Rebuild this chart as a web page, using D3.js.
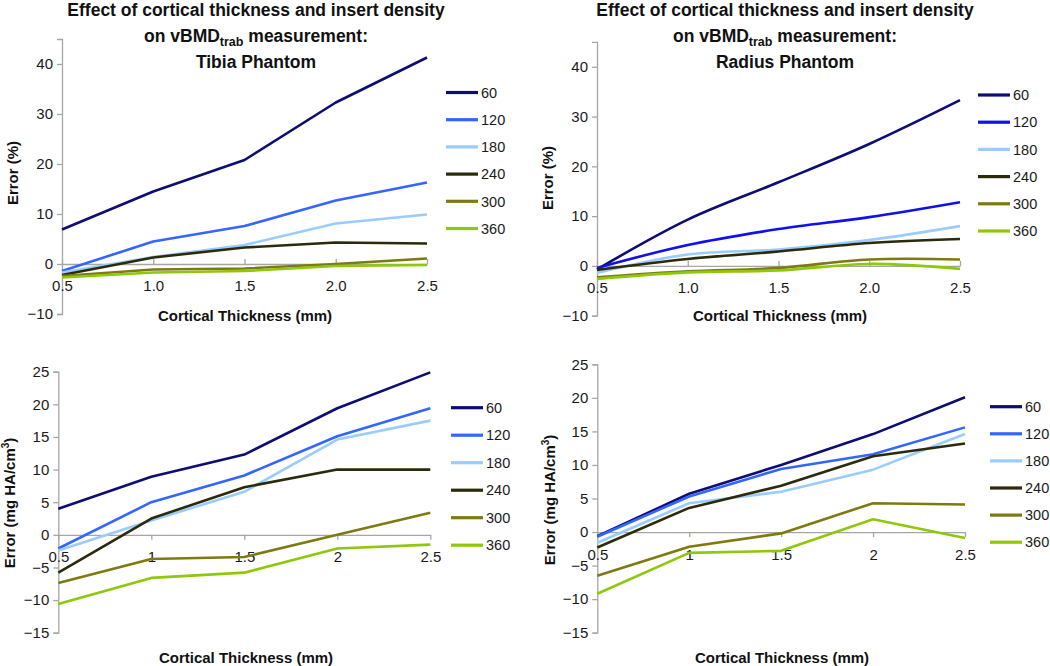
<!DOCTYPE html>
<html><head><meta charset="utf-8">
<script src="https://cdn.jsdelivr.net/npm/d3@7"></script>
<style>
body{margin:0;background:#fff;}
svg{display:block;font-family:"Liberation Sans",Arial,sans-serif;}
</style></head>
<body><svg id="c" width="1050" height="666"></svg>
<script>
// ---- data ----
const thickness = [0.5, 1.0, 1.5, 2.0, 2.5];
const densities = ["60", "120", "180", "240", "300", "360"];
const tibiaPct = [
  [6.9, 14.5, 20.8, 32.3, 41.3],
  [-1.4, 4.5, 7.6, 12.7, 16.3],
  [-1.7, 1.4, 3.8, 8.1, 9.9],
  [-2.2, 1.3, 3.3, 4.3, 4.1],
  [-2.4, -1.1, -0.9, 0.0, 1.1],
  [-2.7, -1.7, -1.4, -0.4, -0.2]
];
const radiusPct = [
  [-0.7, 9.3, 16.8, 24.5, 33.3],
  [-0.4, 4.2, 7.4, 9.8, 12.8],
  [-1.4, 2.3, 3.3, 5.2, 8.0],
  [-0.8, 1.4, 2.9, 4.6, 5.4],
  [-2.3, -1.1, -0.4, 1.3, 1.3],
  [-2.6, -1.3, -0.9, 0.4, -0.6]
];
const tibiaMg = [
  [4.0, 8.9, 12.3, 19.4, 24.9],
  [-2.1, 5.0, 9.1, 15.1, 19.4],
  [-2.4, 2.2, 6.6, 14.6, 17.5],
  [-5.8, 2.5, 7.3, 10.0, 10.0],
  [-7.4, -3.7, -3.4, 0.0, 3.4],
  [-10.6, -6.6, -5.8, -2.1, -1.5]
];
const radiusMg = [
  [-0.6, 5.7, 10.0, 14.6, 20.1],
  [-0.7, 5.3, 9.4, 11.6, 15.6],
  [-1.6, 4.3, 6.0, 9.3, 14.6],
  [-2.3, 3.6, 6.9, 11.3, 13.2],
  [-6.5, -2.2, -0.2, 4.3, 4.1],
  [-9.2, -3.1, -2.8, 1.9, -0.9]
];
const pctTicks = [-10, 0, 10, 20, 30, 40];
const mgTicks = [-15, -10, -5, 0, 5, 10, 15, 20, 25];
const xTickLabelsTop = ["0.5", "1.0", "1.5", "2.0", "2.5"];
const xTickLabelsBottom = ["0.5", "1", "1.5", "2", "2.5"];
const colorsA = ["#0d0d73", "#3366ff", "#99ccff", "#2b2b0b", "#7d7a12", "#8fc70a"];
const colorsB = ["#0d0d73", "#1010ee", "#99ccff", "#2b2b0b", "#7d7a12", "#8fc70a"];

const svg = d3.select("#c");

function panel(o) {
  const g = svg.append("g");
  const x = d3.scaleLinear().domain([0.5, 2.5]).range([o.x0, o.x1]);
  const y = d3.scaleLinear().domain(o.yDomain).range([o.yBottom, o.yTop]);
  // y axis
  const ya = g.append("g").attr("transform", `translate(${o.x0},0)`)
    .call(d3.axisLeft(y).tickValues(o.yTicks).tickSize(5).tickPadding(4).tickFormat(d3.format("d")));
  ya.select(".domain").attr("stroke", "#a6a6a6").attr("stroke-width", 1.3);
  ya.selectAll(".tick line").attr("stroke", "#a6a6a6").attr("stroke-width", 1.3);
  ya.selectAll(".tick text").attr("font-size", 15).attr("fill", "#1a1a1a")
    .attr("font-family", "Liberation Sans, Arial, sans-serif");
  // x axis at zero
  const xa = g.append("g").attr("transform", `translate(0,${y(0)})`)
    .call((o.tickUp ? d3.axisTop(x) : d3.axisBottom(x)).tickValues(thickness).tickSize(5).tickSizeOuter(0)
      .tickFormat((d, i) => o.xLabels[i]));
  xa.select(".domain").attr("stroke", "#a6a6a6").attr("stroke-width", 1.3);
  xa.selectAll(".tick line").attr("stroke", "#a6a6a6").attr("stroke-width", 1.3);
  xa.selectAll(".tick text").attr("font-size", 15).attr("fill", "#1a1a1a")
    .attr("font-family", "Liberation Sans, Arial, sans-serif")
    .attr("y", o.tickUp ? 27 : 17).attr("dy", o.tickUp ? "0" : "0.71em");
  // lines
  const line = d3.line().x((d, i) => x(thickness[i])).y(d => y(d)).curve(o.smooth ? d3.curveCatmullRom.alpha(0.5) : d3.curveLinear);
  o.series.forEach((s, k) => {
    g.append("path").attr("d", line(s)).attr("fill", "none")
      .attr("stroke", o.colors[k]).attr("stroke-width", 2.6).attr("stroke-linejoin", "round");
  });
  // legend
  densities.forEach((d, k) => {
    const yy = o.legY + k * o.legStep;
    g.append("line").attr("x1", o.legX).attr("x2", o.legX + 32).attr("y1", yy).attr("y2", yy)
      .attr("stroke", o.colors[k]).attr("stroke-width", 3.2);
    g.append("text").attr("x", o.legX + 35).attr("y", yy).attr("dy", "0.36em")
      .attr("font-size", 14.5).attr("fill", "#1a1a1a").text(d);
  });
  // x title
  g.append("text").attr("x", o.xtX).attr("y", o.xtY).attr("text-anchor", "middle")
    .attr("font-size", 15).attr("font-weight", "bold").attr("fill", "#111").text("Cortical Thickness (mm)");
  // y title
  const yt = g.append("text").attr("transform", `translate(${o.ytX},${o.ytY}) rotate(-90)`)
    .attr("text-anchor", "middle").attr("font-size", 15).attr("font-weight", "bold").attr("fill", "#111");
  if (o.mg) {
    yt.append("tspan").text("Error (mg HA/cm");
    yt.append("tspan").attr("font-size", 10).attr("dy", -6).text("3");
    yt.append("tspan").attr("dy", 6).text(")");
  } else yt.text("Error (%)");
  // title
  if (o.title) {
    const t = g.append("g").attr("font-weight", "bold").attr("font-size", 17.5).attr("fill", "#111").attr("text-anchor", "middle");
    t.append("text").attr("x", o.tX).attr("y", 16).text("Effect of cortical thickness and insert density");
    const l2 = t.append("text").attr("x", o.tX).attr("y", 42);
    l2.append("tspan").text("on vBMD");
    l2.append("tspan").attr("font-size", 12.5).attr("dy", 4).text("trab");
    l2.append("tspan").attr("dy", -4).text(" measurement:");
    t.append("text").attr("x", o.tX).attr("y", 68).text(o.title);
  }
}

panel({x0: 62, x1: 427, yDomain: [-10, 45], yBottom: 314, yTop: 39, yTicks: pctTicks, xLabels: xTickLabelsTop, tickUp: true,
  series: tibiaPct, colors: colorsA, legX: 446, legY: 92.5, legStep: 27.2, xtX: 245, xtY: 321, ytX: 18, ytY: 173,
  title: "Tibia Phantom", tX: 256});
panel({x0: 597, x1: 960, yDomain: [-10, 45], yBottom: 315.7, yTop: 41.9, yTicks: pctTicks, xLabels: xTickLabelsTop, tickUp: true, smooth: true,
  series: radiusPct, colors: colorsB, legX: 978, legY: 95, legStep: 27.2, xtX: 780, xtY: 321, ytX: 553, ytY: 178,
  title: "Radius Phantom", tX: 785});
panel({x0: 58.3, x1: 430.3, yDomain: [-15, 25], yBottom: 632.7, yTop: 371.7, yTicks: mgTicks, xLabels: xTickLabelsBottom, tickUp: false,
  series: tibiaMg, colors: colorsA, legX: 451, legY: 407.7, legStep: 27.5, xtX: 246, xtY: 663, ytX: 15, ytY: 503, mg: true});
panel({x0: 597.3, x1: 965, yDomain: [-15, 25], yBottom: 632.7, yTop: 364.3, yTicks: mgTicks, xLabels: xTickLabelsBottom, tickUp: false,
  series: radiusMg, colors: colorsA, legX: 990, legY: 406.7, legStep: 27.1, xtX: 782, xtY: 663, ytX: 555, ytY: 500, mg: true});
</script>
</body></html>
